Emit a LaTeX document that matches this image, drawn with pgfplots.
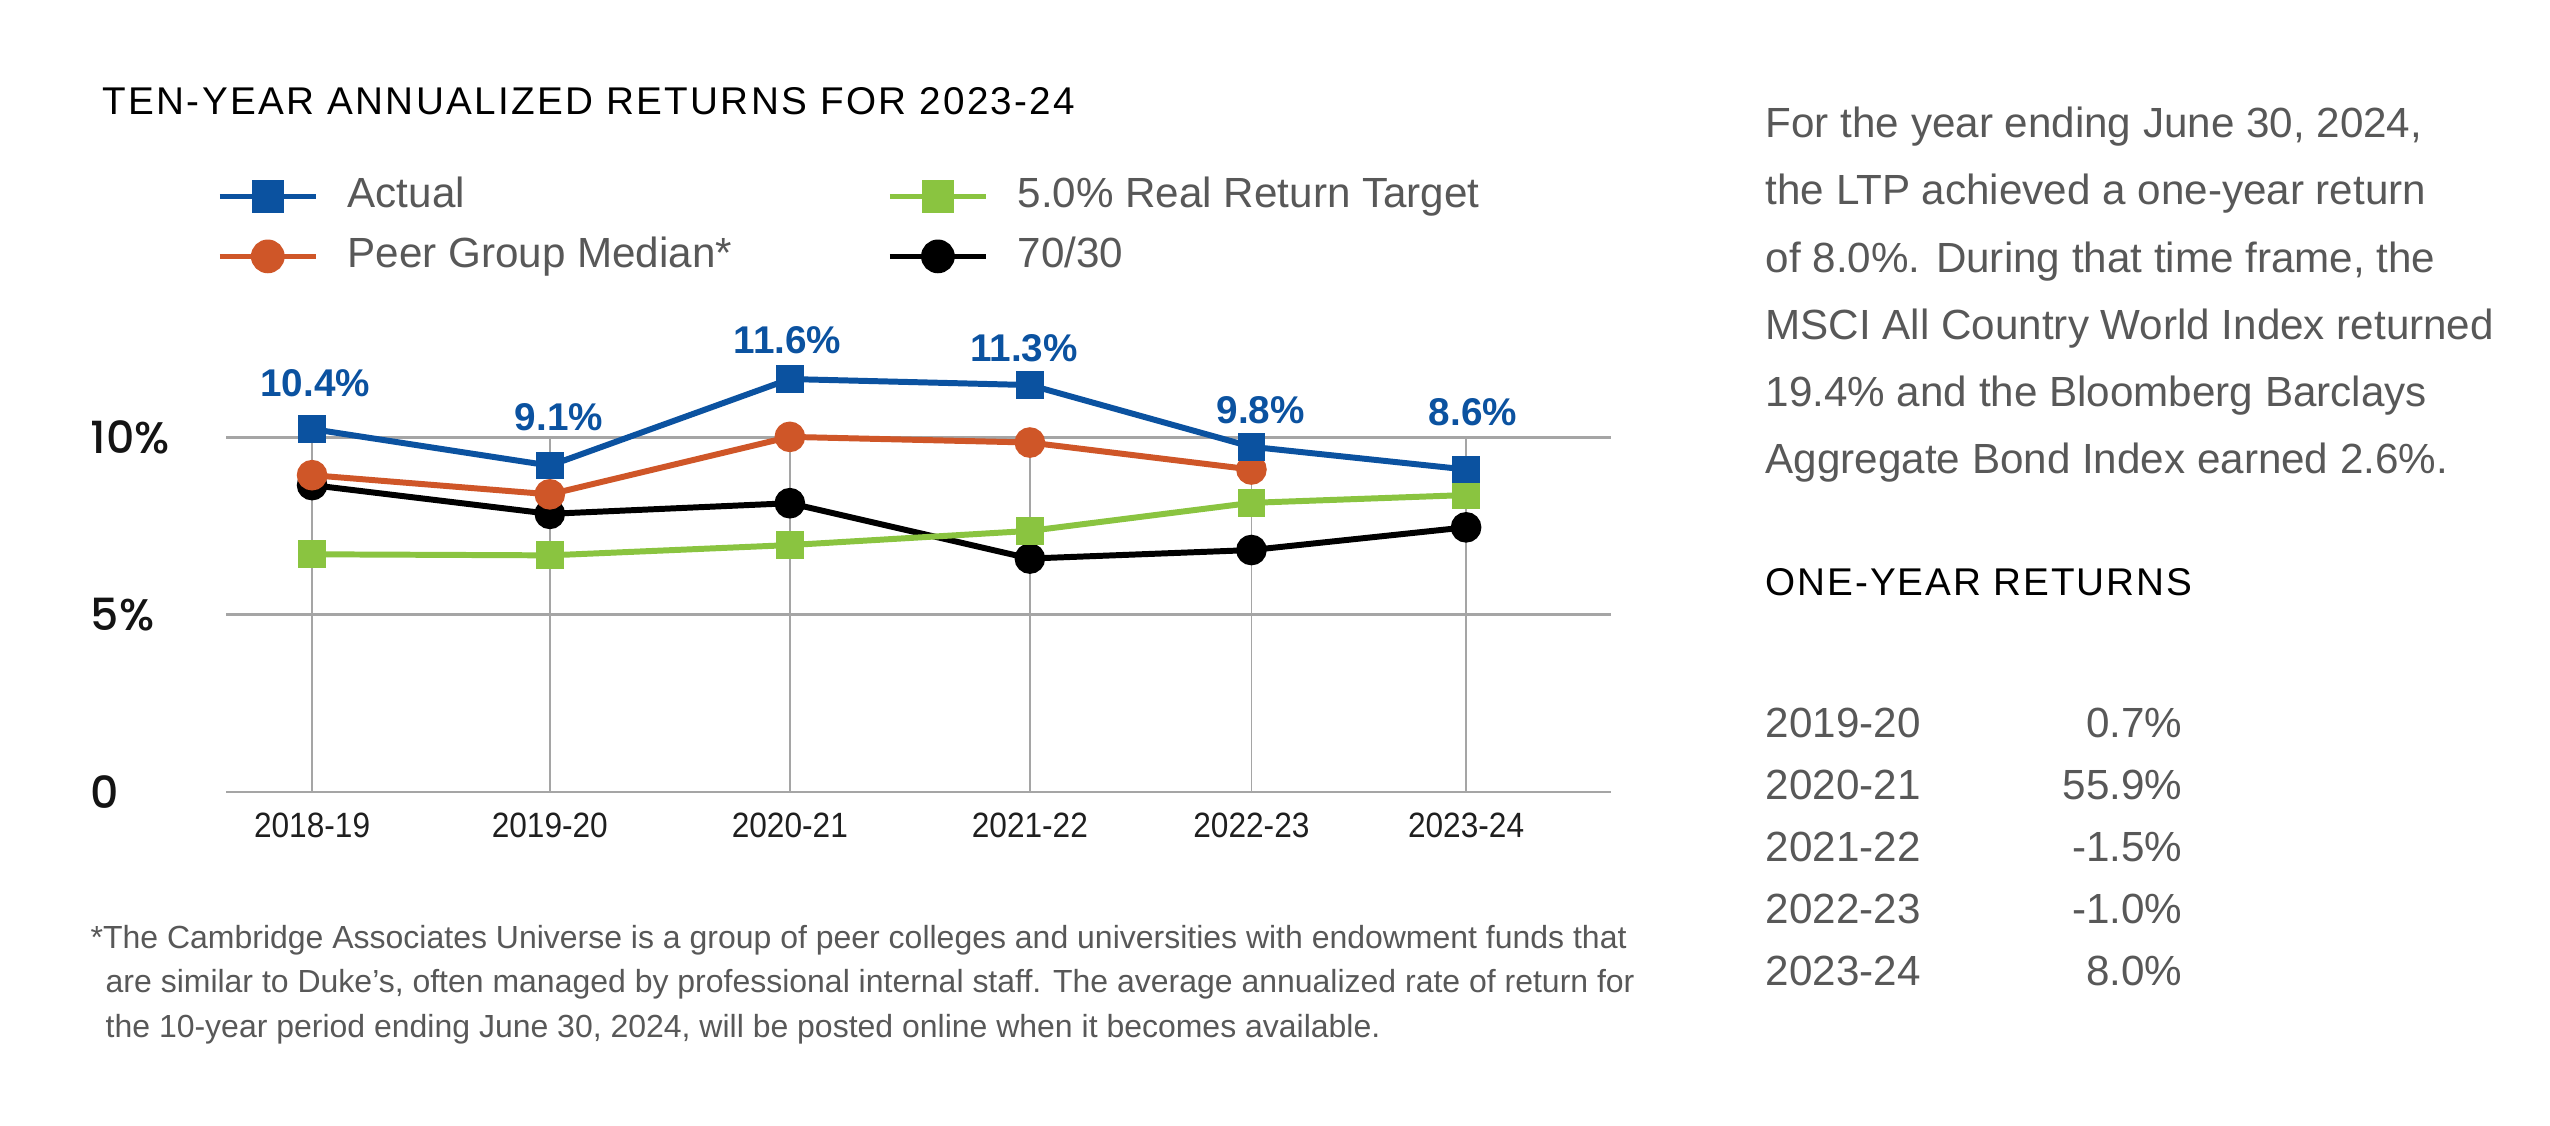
\documentclass[border=0pt]{standalone}
\usepackage{pgfplots}
\usepackage{pgfplotstable}
\pgfplotsset{compat=1.18}
\usepackage{fontspec}
\setmainfont{Liberation Sans}
\newfontfamily\condfont{Liberation Sans}[FakeStretch=0.9]
\IfFontExistsTF{Poppins Medium}{\newfontfamily\popfont{Poppins Medium}}{\newfontfamily\popfont{Poppins}}
\newfontfamily\titlefont{Liberation Sans}[LetterSpace=6]
\newfontfamily\headfont{Liberation Sans}[LetterSpace=5]
\definecolor{cblue}{RGB}{11,82,160}
\definecolor{corange}{RGB}{207,86,40}
\definecolor{cgreen}{RGB}{138,196,64}
\definecolor{textgray}{RGB}{88,88,88}
\definecolor{gridgray}{RGB}{165,165,165}

\pgfplotstableread{
x    actual peer  target sixty
0    10.23  8.93  6.70   8.65
1.03 9.20   8.39  6.67   7.84
2.07 11.64  10.01 6.96   8.14
3.11 11.47  9.85  7.36   6.58
4.07 9.73   9.09  8.15   6.82
5    9.09   nan   8.37   7.46
}\datatable

\pgfplotstableread{
x     y     lab
0.013 11.53 10.4
1.07  10.57 9.1
2.06  12.74 11.6
3.085 12.51 11.3
4.11  10.77 9.8
5.03  10.71 8.6
}\labeltable

\begin{document}
\begin{tikzpicture}
\path[use as bounding box, fill=white] (0,0) rectangle (25.5,11.25);

% grid axis
\begin{axis}[
  at={(2.26cm,3.33cm)}, anchor=south west,
  scale only axis, width=13.85cm, height=3.548cm,
  xmin=-0.373, xmax=5.628, ymin=0, ymax=10,
  axis line style={draw=none},
  major tick length=0pt,
  xtick={0,1.03,2.07,3.11,4.07,5},
  xticklabels={2018-19,2019-20,2020-21,2021-22,2022-23,2023-24},
  ytick={0,5,10},
  yticklabels={0,5\%,10\%},
  xmajorgrids, ymajorgrids,
  x grid style={gridgray, line width=0.5pt},
  y grid style={gridgray, line width=0.8pt},
  extra y ticks={0},
  extra y tick labels={},
  extra y tick style={grid style={color=black!45, line width=1pt}},
  xticklabel style={font=\condfont\fontsize{10}{12}\selectfont, text=black!88, anchor=base, yshift=-0.45cm, inner sep=0pt},
  yticklabel style={font=\popfont\fontsize{12.6}{14}\selectfont, text=black!92, anchor=west, xshift=-1.36cm, inner sep=0pt},
]
\addplot[draw=none] coordinates {(0,0)};
\end{axis}

% data axis
\begin{axis}[
  at={(2.26cm,3.33cm)}, anchor=south west,
  scale only axis, width=13.85cm, height=4.967cm,
  xmin=-0.373, xmax=5.628, ymin=0, ymax=14,
  hide axis, clip=false,
  legend columns=2, legend cell align=left,
  legend image code/.code={\draw[mark repeat=2,mark phase=2,#1] plot coordinates {(0cm,0cm) (0.48cm,0cm) (0.96cm,0cm)};},
  legend style={at={(axis description cs:-0.0065,1.2374)}, anchor=north west,
    draw=none, fill=none, inner sep=0pt, outer sep=0pt,
    font=\fontsize{12}{14}\selectfont, text=textgray, row sep=0.22cm,
    nodes={inner sep=0pt, text height=0.3cm, text depth=0.08cm},
    /tikz/every odd column/.append style={column sep=0.29cm},
    /tikz/every even column/.append style={column sep=1.55cm}},
]
\addlegendimage{cblue, line width=1.6pt, mark=square*, mark size=3.8pt, mark options={solid}}
\addlegendentry{Actual}
\addlegendimage{cgreen, line width=1.6pt, mark=square*, mark size=3.8pt, mark options={solid}}
\addlegendentry{5.0\% Real Return Target}
\addlegendimage{corange, line width=1.6pt, mark=*, mark size=4pt, mark options={solid}}
\addlegendentry{Peer Group Median*}
\addlegendimage{black, line width=1.6pt, mark=*, mark size=4pt, mark options={solid}}
\addlegendentry{70/30}

\addplot[forget plot, black, line width=1.7pt, mark=*, mark size=3.5pt] table[x=x, y=sixty] {\datatable};
\addplot[forget plot, cgreen, line width=1.7pt, mark=square*, mark size=3.1pt] table[x=x, y=target] {\datatable};
\addplot[forget plot, corange, line width=1.7pt, mark=*, mark size=3.5pt] table[x=x, y=peer] {\datatable};
\addplot[forget plot, cblue, line width=1.7pt, mark=square*, mark size=3.1pt] table[x=x, y=actual] {\datatable};

\addplot[forget plot, only marks, mark=*, mark size=0pt, mark options={draw=none, fill=none},
  point meta=explicit symbolic,
  nodes near coords={\pgfplotspointmeta\%},
  nodes near coords align={center},
  every node near coord/.append style={font=\bfseries\fontsize{11}{13}\selectfont, text=cblue, inner sep=0pt}]
  table[x=x, y=y, meta=lab] {\labeltable};
\end{axis}

% title
\node[anchor=base west, inner sep=0pt, font=\titlefont\fontsize{11}{12}\selectfont, text=black] at (1.02,10.10) {TEN-YEAR ANNUALIZED RETURNS FOR 2023-24};

% right paragraph
\begin{scope}[every node/.style={anchor=base west, inner sep=0pt, font=\fontsize{12}{14}\selectfont, text=textgray}]
\node at (17.65,9.87) {For the year ending June 30, 2024,};
\node at (17.65,9.20) {the LTP achieved a one-year return};
\node at (17.65,8.53) {of 8.0\%. During that time frame, the};
\node at (17.65,7.86) {MSCI All Country World Index returned};
\node at (17.65,7.19) {19.4\% and the Bloomberg Barclays};
\node at (17.65,6.52) {Aggregate Bond Index earned 2.6\%.};
\node at (17.65,3.88) {2019-20};
\node at (17.65,3.26) {2020-21};
\node at (17.65,2.64) {2021-22};
\node at (17.65,2.02) {2022-23};
\node at (17.65,1.40) {2023-24};
\end{scope}
\begin{scope}[every node/.style={anchor=base east, inner sep=0pt, font=\fontsize{12}{14}\selectfont, text=textgray}]
\node at (21.83,3.88) {0.7\%};
\node at (21.83,3.26) {55.9\%};
\node at (21.83,2.64) {-1.5\%};
\node at (21.83,2.02) {-1.0\%};
\node at (21.83,1.40) {8.0\%};
\end{scope}
\node[anchor=base west, inner sep=0pt, font=\headfont\fontsize{11}{12}\selectfont, text=black] at (17.65,5.30) {ONE-YEAR RETURNS};

% footnote
\begin{scope}[every node/.style={anchor=base west, inner sep=0pt, font=\fontsize{9.1}{11}\selectfont, text=textgray}]
\node at (0.90,1.77) {*The Cambridge Associates Universe is a group of peer colleges and universities with endowment funds that};
\node at (1.05,1.33) {are similar to Duke's, often managed by professional internal staff. The average annualized rate of return for};
\node at (1.05,0.88) {the 10-year period ending June 30, 2024, will be posted online when it becomes available.};
\end{scope}
\end{tikzpicture}
\end{document}
